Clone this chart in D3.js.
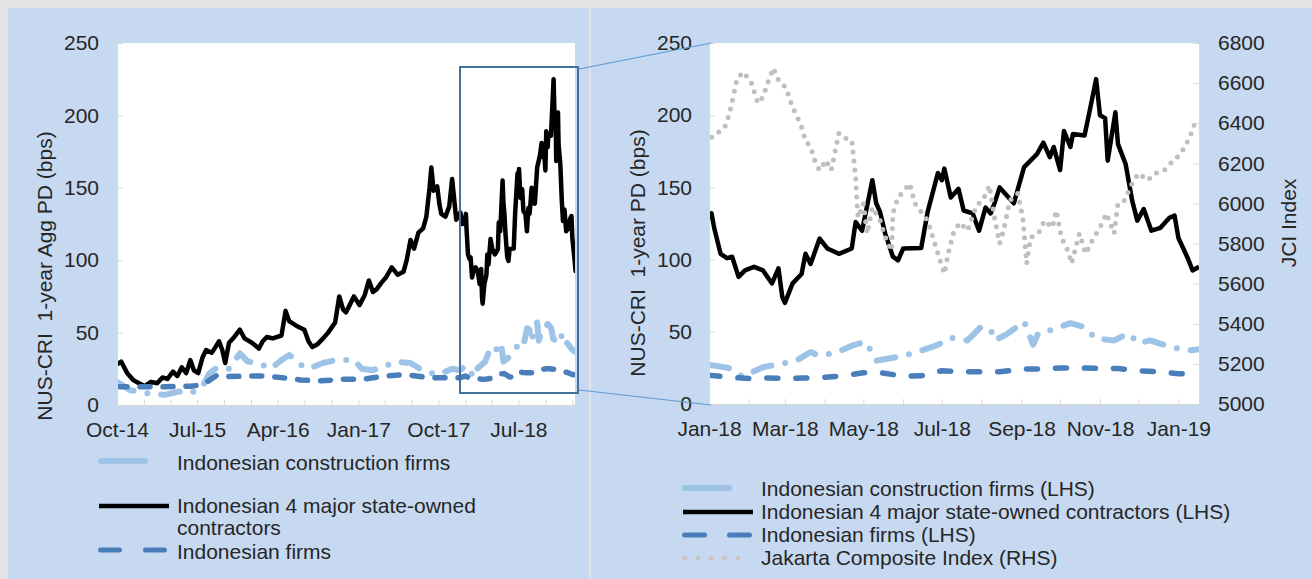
<!DOCTYPE html>
<html>
<head>
<meta charset="utf-8">
<script src="https://cdn.jsdelivr.net/npm/d3@7"></script>
<style>
  body { margin: 0; background: #e3e3e3; }
  text { font-family: "Liberation Sans", Arial, sans-serif; fill: #262626; }
</style>
</head>
<body>
<svg id="chart" width="1312" height="579"></svg>
<script>
const parse = d3.timeParse("%Y-%m-%d")

// NUS-CRI 1-year PD (bps), Indonesian 4 major state-owned contractors
const blackEarly = [
  ["2014-10-01",28],["2014-10-15",30],["2014-11-05",22],["2014-11-27",17],["2014-12-15",15],
  ["2015-01-04",13],["2015-01-25",16],["2015-02-15",15],["2015-03-05",19],["2015-03-22",18],
  ["2015-04-10",23],["2015-04-25",20],["2015-05-10",26],["2015-05-25",22],["2015-06-08",31],
  ["2015-06-20",24],["2015-07-05",22],["2015-07-20",33],["2015-08-01",38],["2015-08-20",36],
  ["2015-09-05",41],["2015-09-14",44],["2015-09-25",38],["2015-10-05",29],["2015-10-18",43],
  ["2015-11-05",47],["2015-11-24",52],["2015-12-10",46],["2016-01-04",43],["2016-01-28",39],
  ["2016-02-10",44],["2016-02-24",47],["2016-03-15",46],["2016-04-14",48],["2016-04-28",65],
  ["2016-05-10",58],["2016-05-25",56],["2016-06-10",54],["2016-07-01",52],["2016-07-15",44],
  ["2016-07-28",40],["2016-08-15",42],["2016-09-03",46],["2016-09-20",50],["2016-10-14",57],
  ["2016-10-28",75],["2016-11-10",66],["2016-11-20",64],["2016-12-05",70],["2016-12-17",75],
  ["2017-01-05",69],["2017-01-23",76],["2017-02-06",86],["2017-02-20",78],["2017-03-05",80],
  ["2017-03-19",84],["2017-04-05",88],["2017-04-25",95],["2017-05-15",90],["2017-06-04",92],
  ["2017-06-15",100],["2017-06-28",114],["2017-07-10",108],["2017-07-25",119],["2017-08-10",122],
  ["2017-08-21",130],["2017-09-01",150],["2017-09-07",164],["2017-09-15",148],["2017-09-27",151],
  ["2017-10-05",138],["2017-10-11",132],["2017-10-25",130],["2017-11-07",137],["2017-11-17",156],
  ["2017-11-25",140],["2017-12-01",128],["2017-12-15",133],["2017-12-22",125]
]
const blackLate = [
  ["2018-01-01",128],["2018-01-03",132],["2018-01-05",122],["2018-01-10",104],["2018-01-15",101],
  ["2018-01-19",102],["2018-01-24",88],["2018-01-29",92.5],["2018-02-05",95],["2018-02-12",92.5],
  ["2018-02-19",83.5],["2018-02-24",94],["2018-02-27",74],["2018-03-01",70],["2018-03-07",83.5],
  ["2018-03-14",90],["2018-03-17",104],["2018-03-21",97],["2018-03-28",114.6],["2018-04-03",107.7],
  ["2018-04-12",104],["2018-04-22",107.7],["2018-04-25",126],["2018-04-30",120],["2018-05-08",155],
  ["2018-05-11",139],["2018-05-14",133],["2018-05-18",118],["2018-05-24",102],["2018-05-28",99.5],
  ["2018-06-01",107.7],["2018-06-15",108],["2018-06-20",133],["2018-06-28",160],["2018-07-01",155],
  ["2018-07-03",163],["2018-07-08",143],["2018-07-14",149],["2018-07-18",134],["2018-07-25",132],
  ["2018-07-30",120],["2018-08-04",136],["2018-08-08",132],["2018-08-11",139],["2018-08-15",150],
  ["2018-08-26",139],["2018-09-03",164],["2018-09-13",173],["2018-09-18",181],["2018-09-23",171],
  ["2018-09-26",178],["2018-10-01",162],["2018-10-04",189],["2018-10-09",178],["2018-10-11",187],
  ["2018-10-20",186],["2018-10-24",203],["2018-10-29",225],["2018-11-01",200],["2018-11-05",198],
  ["2018-11-07",168.5],["2018-11-13",202],["2018-11-15",180],["2018-11-21",166],["2018-11-26",141],
  ["2018-11-30",127],["2018-12-05",135],["2018-12-11",120],["2018-12-18",122],["2018-12-25",129],
  ["2018-12-29",130.5],["2019-01-01",115],["2019-01-08",101.5],["2019-01-12",92.5],["2019-01-17",95]
]

// Indonesian construction firms
const constrEarly = [
  ["2014-10-01",16],["2014-11-14",10.3],["2015-01-17",8],["2015-03-12",7],["2015-05-02",9.3],
  ["2015-06-08",8],["2015-07-19",12.6],["2015-08-12",21.8],["2015-09-08",26],["2015-10-18",25],
  ["2015-11-24",35.6],["2015-12-21",30],["2016-01-28",29],["2016-03-08",25],["2016-04-14",31],
  ["2016-05-11",34.6],["2016-06-18",27.7],["2016-07-15",25],["2016-09-03",29],["2016-10-14",31],
  ["2016-11-20",31],["2016-12-17",31],["2017-01-13",25],["2017-02-19",24],["2017-04-11",27.6],
  ["2017-05-08",30],["2017-06-28",29],["2017-08-08",24],["2017-09-27",20.7],["2017-11-17",25],
  ["2017-12-14",24]
]
const constrLate = [
  ["2018-01-02",27],["2018-01-16",25],["2018-01-27",19],["2018-02-12",25.5],["2018-02-27",28],
  ["2018-03-10",30],["2018-03-21",36],["2018-03-26",34],["2018-04-08",35],["2018-04-24",41],
  ["2018-05-03",43],["2018-05-11",30],["2018-05-24",32],["2018-06-04",34],["2018-06-22",39],
  ["2018-06-28",41],["2018-07-08",46],["2018-07-21",44],["2018-07-31",53],["2018-08-08",52],
  ["2018-08-11",44],["2018-08-20",48],["2018-09-03",57],["2018-09-07",48],["2018-09-10",41],
  ["2018-09-14",49],["2018-09-25",51.5],["2018-10-09",56],["2018-10-21",53],["2018-10-28",45.5],
  ["2018-11-12",44],["2018-11-23",49],["2018-12-01",42],["2018-12-10",44],["2018-12-17",42],
  ["2018-12-29",39],["2019-01-08",37],["2019-01-17",38]
]

// Indonesian firms
const firmsEarly = [
  ["2014-10-01",12.6],["2014-11-27",12.6],["2015-01-20",12.6],["2015-03-16",12.6],["2015-06-08",13],
  ["2015-07-19",13.8],["2015-09-08",20.7],["2015-10-18",19.6],["2015-12-21",20],["2016-02-24",20],
  ["2016-04-14",18.9],["2016-06-18",17.3],["2016-08-20",16.6],["2016-11-05",17.7],["2017-01-13",17.7],
  ["2017-03-30",20],["2017-06-11",21],["2017-08-28",18.9],["2017-11-17",18.9],["2017-12-14",18.9]
]
const firmsLate = [
  ["2018-01-01",20],["2018-01-15",18.6],["2018-02-01",17.7],["2018-02-15",18],["2018-03-01",17.7],
  ["2018-03-15",18],["2018-04-01",18.5],["2018-04-15",19.5],["2018-05-01",21.6],["2018-05-15",21.6],
  ["2018-06-01",19.3],["2018-06-15",19.5],["2018-07-01",23],["2018-07-15",22.5],["2018-08-01",22.3],
  ["2018-08-15",22.3],["2018-09-01",24.2],["2018-09-15",24.2],["2018-10-01",25],["2018-10-15",25],
  ["2018-11-01",24.6],["2018-11-15",24.6],["2018-12-01",23],["2018-12-15",22.5],["2019-01-01",21],
  ["2019-01-17",20.7]
]

// Jakarta Composite Index (RHS)
const jci = [
  ["2018-01-03",6330],["2018-01-07",6350],["2018-01-13",6375],["2018-01-17",6450],["2018-01-23",6625],
  ["2018-01-28",6655],["2018-02-03",6600],["2018-02-08",6500],["2018-02-12",6530],["2018-02-15",6590],
  ["2018-02-20",6675],["2018-02-24",6615],["2018-03-02",6575],["2018-03-07",6480],["2018-03-10",6440],
  ["2018-03-14",6380],["2018-03-17",6315],["2018-03-21",6280],["2018-03-25",6200],["2018-03-28",6165],
  ["2018-04-02",6215],["2018-04-06",6165],["2018-04-12",6350],["2018-04-17",6325],["2018-04-22",6315],
  ["2018-04-25",6130],["2018-04-26",6015],["2018-04-27",5930],["2018-05-01",6000],["2018-05-04",5850],
  ["2018-05-08",5980],["2018-05-14",5915],["2018-05-19",5815],["2018-05-23",5765],["2018-05-24",5950],
  ["2018-05-28",6030],["2018-06-02",6065],["2018-06-06",6100],["2018-06-10",6000],["2018-06-20",5915],
  ["2018-06-29",5730],["2018-07-03",5650],["2018-07-06",5750],["2018-07-10",5850],["2018-07-15",5905],
  ["2018-07-21",5865],["2018-07-28",5990],["2018-08-02",6015],["2018-08-07",6090],["2018-08-11",5930],
  ["2018-08-15",5800],["2018-08-18",5865],["2018-08-23",6015],["2018-08-29",6050],["2018-09-02",5930],
  ["2018-09-05",5700],["2018-09-08",5830],["2018-09-14",5850],["2018-09-19",5915],["2018-09-25",5880],
  ["2018-09-28",5965],["2018-10-02",5830],["2018-10-07",5765],["2018-10-10",5700],["2018-10-16",5850],
  ["2018-10-21",5750],["2018-10-26",5815],["2018-11-01",5880],["2018-11-06",5950],["2018-11-12",5850],
  ["2018-11-15",6000],["2018-11-20",6015],["2018-11-26",6100],["2018-12-01",6150],["2018-12-08",6115],
  ["2018-12-14",6150],["2018-12-21",6165],["2018-12-26",6200],["2018-12-31",6230],["2019-01-06",6280],
  ["2019-01-11",6350],["2019-01-14",6405]
]

const leftLabelDates = ["2014-10-01","2015-07-01","2016-04-01","2017-01-01","2017-10-01","2018-07-01"]
const rightLabelDates = ["2018-01-01","2018-03-01","2018-05-01","2018-07-01","2018-09-01","2018-11-01","2019-01-01"]
const pdTicks = [0, 50, 100, 150, 200, 250]
const jciTicks = [5000, 5200, 5400, 5600, 5800, 6000, 6200, 6400, 6600, 6800]
const names = ["Indonesian construction firms", "Indonesian 4 major state-owned contractors",
  "Indonesian firms", "Jakarta Composite Index"]

const toPts = arr => arr.map(d => ({date: parse(d[0]), value: d[1]}))
const fmt = d3.timeFormat("%b-%y")

const LIGHT = "#9dc3e6", DARK = "#4a7ebb", GREY = "#bfbfbf", AXIS = "#d9d9d9"

const svg = d3.select("#chart")
svg.append("rect").attr("x", 8).attr("y", 8).attr("width", 581).attr("height", 571).attr("fill", "#c6d9f1")
svg.append("rect").attr("x", 591).attr("y", 8).attr("width", 721).attr("height", 571).attr("fill", "#c6d9f1")

// ---------- left panel ----------
const xL = d3.scaleTime().domain([parse("2014-10-01"), parse("2019-01-10")]).range([117, 575])
const yL = d3.scaleLinear().domain([0, 250]).range([405, 43])

svg.append("rect").attr("x", 117).attr("y", 43).attr("width", 458).attr("height", 362).attr("fill", "#fff")
svg.append("clipPath").attr("id", "clipL").append("rect")
  .attr("x", 117).attr("y", 40).attr("width", 458).attr("height", 368)

const lineL = d3.line().x(d => xL(d.date)).y(d => yL(d.value))
const gL = svg.append("g").attr("clip-path", "url(#clipL)")
gL.append("path").datum(toPts(constrEarly.concat(constrLate)))
  .attr("d", lineL).attr("fill", "none").attr("stroke", LIGHT).attr("stroke-width", 6)
  .attr("stroke-linecap", "round").attr("stroke-linejoin", "round").attr("stroke-dasharray", "19,14,0,14")
gL.append("path").datum(toPts(blackEarly.concat(blackLate)))
  .attr("d", lineL).attr("fill", "none").attr("stroke", "#000").attr("stroke-width", 4.5)
  .attr("stroke-linejoin", "round")
gL.append("path").datum(toPts(firmsEarly.concat(firmsLate)))
  .attr("d", lineL).attr("fill", "none").attr("stroke", DARK).attr("stroke-width", 5.5)
  .attr("stroke-linecap", "round").attr("stroke-linejoin", "round").attr("stroke-dasharray", "10,13")

const leftLabels = new Set(leftLabelDates.map(d => +parse(d)))
const axL = svg.append("g").attr("transform", "translate(0,405)")
  .call(d3.axisBottom(xL).tickValues(d3.timeMonth.every(3).range(xL.domain()[0], xL.domain()[1]))
    .tickFormat(d => leftLabels.has(+d) ? fmt(d) : "").tickSizeOuter(0))
const ayL = svg.append("g").attr("transform", "translate(117,0)")
  .call(d3.axisLeft(yL).tickValues(pdTicks).tickSizeInner(-6).tickSizeOuter(0).tickPadding(18))

// ---------- right panel ----------
const xR = d3.scaleTime().domain([parse("2018-01-01"), parse("2019-01-17")]).range([709, 1199])
const yR = d3.scaleLinear().domain([0, 250]).range([404, 43])
const yJ = d3.scaleLinear().domain([5000, 6800]).range([404, 43])

svg.append("rect").attr("x", 709).attr("y", 43).attr("width", 490).attr("height", 361).attr("fill", "#fff")
svg.append("clipPath").attr("id", "clipR").append("rect")
  .attr("x", 709).attr("y", 40).attr("width", 490).attr("height", 367)

const lineR = d3.line().x(d => xR(d.date)).y(d => yR(d.value))
const lineJ = d3.line().x(d => xR(d.date)).y(d => yJ(d.value))
const gR = svg.append("g").attr("clip-path", "url(#clipR)")
gR.append("path").datum(toPts(constrLate))
  .attr("d", lineR).attr("fill", "none").attr("stroke", LIGHT).attr("stroke-width", 6)
  .attr("stroke-linecap", "round").attr("stroke-linejoin", "round").attr("stroke-dasharray", "19,14,0,14")
gR.append("path").datum(toPts(blackLate))
  .attr("d", lineR).attr("fill", "none").attr("stroke", "#000").attr("stroke-width", 4.5)
  .attr("stroke-linejoin", "round")
gR.append("path").datum(toPts(firmsLate))
  .attr("d", lineR).attr("fill", "none").attr("stroke", DARK).attr("stroke-width", 5.5)
  .attr("stroke-linecap", "round").attr("stroke-linejoin", "round").attr("stroke-dasharray", "11,18")
gR.append("path").datum(toPts(jci))
  .attr("d", lineJ).attr("fill", "none").attr("stroke", GREY).attr("stroke-width", 5)
  .attr("stroke-linecap", "round").attr("stroke-dasharray", "0,9")

const rightLabels = new Set(rightLabelDates.map(d => +parse(d)))
const axR = svg.append("g").attr("transform", "translate(0,404)")
  .call(d3.axisBottom(xR).tickValues(d3.timeMonth.range(xR.domain()[0], xR.domain()[1]))
    .tickFormat(d => rightLabels.has(+d) ? fmt(d) : "").tickSizeOuter(0))
const ayR = svg.append("g").attr("transform", "translate(709,0)")
  .call(d3.axisLeft(yR).tickValues(pdTicks).tickSizeInner(-6).tickSizeOuter(0).tickPadding(17))
const ayJ = svg.append("g").attr("transform", "translate(1199,0)")
  .call(d3.axisRight(yJ).tickValues(jciTicks).tickFormat(d3.format("d"))
    .tickSizeInner(-6).tickSizeOuter(0).tickPadding(19))

// axis styling
;[axL, ayL, axR, ayR, ayJ].forEach(g => {
  g.attr("font-family", null).attr("font-size", null)
  g.select(".domain").attr("stroke", AXIS)
  g.selectAll(".tick line").attr("stroke", AXIS)
  g.selectAll("text").style("font-size", "21px").attr("fill", "#262626")
})
;[axL, axR].forEach(g => {
  g.selectAll(".tick line").attr("y1", -5).attr("y2", 5)
  g.selectAll(".tick text").attr("y", 17)
})

// axis titles
svg.append("text").attr("transform", "translate(44,276) rotate(-90)").attr("text-anchor", "middle")
  .attr("dominant-baseline", "central").style("font-size", "21px").style("white-space", "pre")
  .text("NUS-CRI  1-year Agg PD (bps)")
svg.append("text").attr("transform", "translate(637,253) rotate(-90)").attr("text-anchor", "middle")
  .attr("dominant-baseline", "central").style("font-size", "21px").style("white-space", "pre")
  .text("NUS-CRI  1-year PD (bps)")
svg.append("text").attr("transform", "translate(1288,223) rotate(-90)").attr("text-anchor", "middle")
  .attr("dominant-baseline", "central").style("font-size", "21px").text("JCI Index")

// zoom box and connectors
svg.append("rect").attr("x", 460).attr("y", 67).attr("width", 118).attr("height", 326)
  .attr("fill", "none").attr("stroke", "#41719c").attr("stroke-width", 2)
svg.append("line").attr("x1", 579).attr("y1", 69).attr("x2", 711).attr("y2", 43)
  .attr("stroke", "#5b9bd5").attr("stroke-width", 1.2)
svg.append("line").attr("x1", 579).attr("y1", 390).attr("x2", 711).attr("y2", 405)
  .attr("stroke", "#5b9bd5").attr("stroke-width", 1.2)

// ---------- legends ----------
function legendLine(x1, x2, y, color, width, dash, cap) {
  svg.append("line").attr("x1", x1).attr("x2", x2).attr("y1", y).attr("y2", y)
    .attr("stroke", color).attr("stroke-width", width)
    .attr("stroke-linecap", cap || "round").attr("stroke-dasharray", dash || null)
}
function legendText(x, y, t) {
  svg.append("text").attr("x", x).attr("y", y).attr("dominant-baseline", "central")
    .style("font-size", "21px").text(t)
}

legendLine(101, 145, 461, LIGHT, 6)
legendText(177, 462, names[0])
legendLine(99, 169, 506, "#000", 4.5, null, "butt")
legendText(177, 505, "Indonesian 4 major state-owned")
legendText(177, 527, "contractors")
legendLine(100.5, 164.5, 550, DARK, 5, "19,26")
legendText(177, 551, names[2])

legendLine(685, 729, 488, LIGHT, 6)
legendText(761, 488, names[0] + " (LHS)")
legendLine(683, 753, 512, "#000", 4.5, null, "butt")
legendText(761, 511, names[1] + " (LHS)")
legendLine(684.5, 749.5, 535, DARK, 5, "20,25")
legendText(761, 534, names[2] + " (LHS)")
legendLine(684.5, 751, 558, "#c9c5bf", 5, "0,13.3")
legendText(761, 557, names[3] + " (RHS)")
</script>
</body>
</html>
